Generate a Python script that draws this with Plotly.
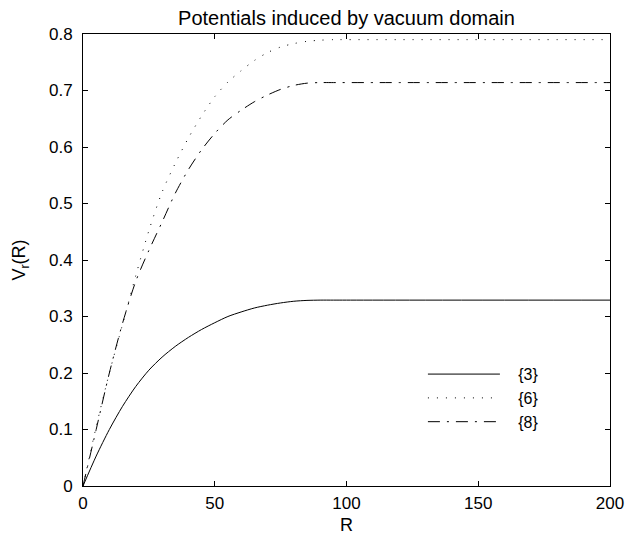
import plotly.graph_objects as go

# Data
R3 = [0, 5, 10, 15, 20, 25, 30, 35, 40, 45, 50, 55, 60, 65, 70, 75, 80, 85, 90, 95, 100, 200]
V3 = [0, 0.053, 0.100, 0.141, 0.176, 0.205, 0.228, 0.247, 0.263, 0.277, 0.289, 0.300,
      0.308, 0.315, 0.320, 0.324, 0.327, 0.3285, 0.329, 0.329, 0.329, 0.329]

R6 = [0, 5, 10, 15, 20, 25, 30, 35, 40, 45, 50, 55, 60, 65, 70, 75, 80, 85, 90, 95, 100, 200]
V6 = [0, 0.105, 0.200, 0.286, 0.372, 0.452, 0.520, 0.571, 0.616, 0.655, 0.689, 0.715,
      0.735, 0.753, 0.767, 0.777, 0.783, 0.787, 0.789, 0.790, 0.790, 0.790]

R8 = [0, 5, 10, 15, 20, 25, 30, 35, 40, 45, 50, 55, 60, 65, 70, 75, 80, 85, 90, 95, 100, 200]
V8 = [0, 0.100, 0.200, 0.288, 0.362, 0.417, 0.467, 0.518, 0.560, 0.595, 0.624, 0.648,
      0.665, 0.680, 0.692, 0.702, 0.709, 0.713, 0.714, 0.714, 0.714, 0.714]

labels = ["{3}", "{6}", "{8}"]
title = "Potentials induced by vacuum domain"
x_ticks = [0, 50, 100, 150, 200]
y_ticks = [0, 0.1, 0.2, 0.3, 0.4, 0.5, 0.6, 0.7, 0.8]

FONT = "Liberation Sans, Arial, Helvetica, sans-serif"
PAD = "\u00a0\u00a0\u00a0"

fig = go.Figure()
fig.add_trace(go.Scatter(x=R3, y=V3, mode="lines", name=PAD + labels[0],
                         line=dict(color="black", width=1, shape="spline", smoothing=0.8)))
fig.add_trace(go.Scatter(x=R6, y=V6, mode="lines", name=PAD + labels[1],
                         line=dict(color="black", width=1, dash="1px,8px", shape="spline", smoothing=0.8)))
fig.add_trace(go.Scatter(x=R8, y=V8, mode="lines", name=PAD + labels[2],
                         line=dict(color="black", width=1, dash="12px,7px,2px,7px", shape="spline", smoothing=0.8)))

axis_common = dict(showline=True, linecolor="black", linewidth=1, mirror="ticks",
                   ticks="inside", ticklen=5, tickcolor="black", showgrid=False,
                   zeroline=False, automargin=False,
                   tickfont=dict(family=FONT, size=17, color="black"))

fig.update_layout(
    width=629, height=535,
    margin=dict(l=83, r=19, t=34, b=49),
    paper_bgcolor="white", plot_bgcolor="white",
    title=dict(text=title, x=(83 + 610) / 2 / 629, xanchor="center", y=1 - 18 / 535, yanchor="middle",
               font=dict(family=FONT, size=20, color="black")),
    xaxis=dict(range=[0, 200], tickvals=x_ticks, ticklabelstandoff=2,
               title=dict(text="R", standoff=6, font=dict(family=FONT, size=18, color="black")),
               **axis_common),
    yaxis=dict(range=[0, 0.8], tickvals=y_ticks, ticktext=[str(v) for v in y_ticks],
               ticklabelstandoff=6,
               title=dict(text="V<sub>r</sub>(R)", standoff=18,
                          font=dict(family=FONT, size=18, color="black")),
               **axis_common),
    legend=dict(x=0.645, y=0.285, xanchor="left", yanchor="top", bgcolor="rgba(0,0,0,0)",
                borderwidth=0, itemwidth=72,
                font=dict(family=FONT, size=16, color="black")),
    showlegend=True,
)

fig.write_html("out.html",
               config={"displayModeBar": False},
               post_script="document.body.style.margin='0';document.body.style.overflow='hidden';")
